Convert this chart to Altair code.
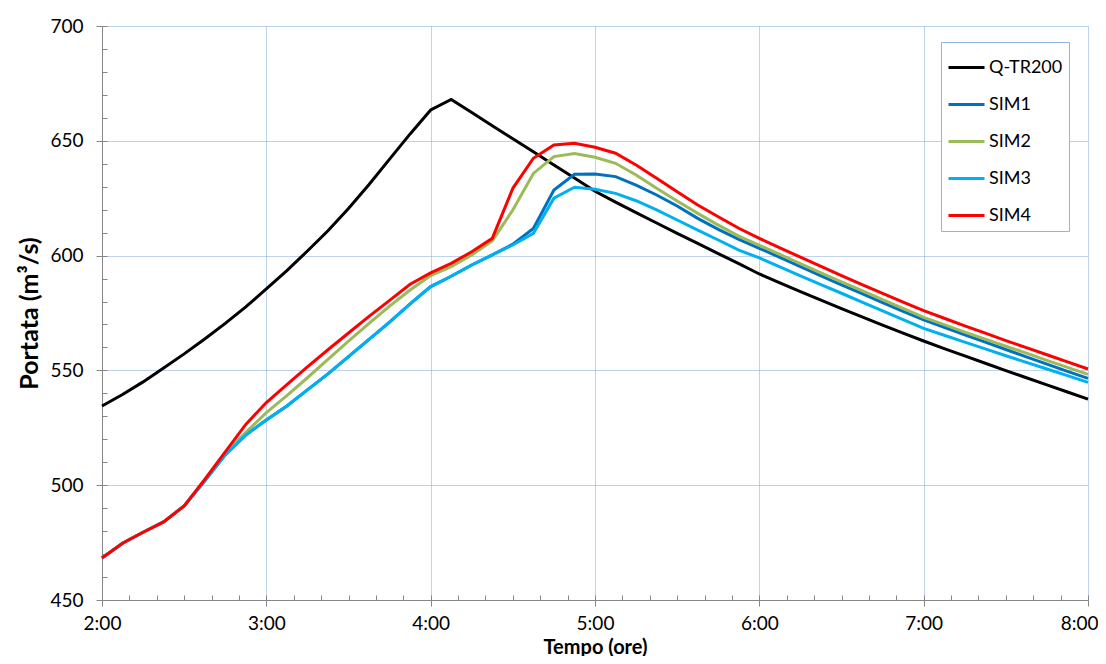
import altair as alt
import pandas as pd

# ---- data ----
time_labels = [
    "2:00", "2:07:30", "2:15", "2:22:30", "2:30", "2:37:30", "2:45", "2:52:30",
    "3:00", "3:07:30", "3:15", "3:22:30", "3:30", "3:37:30", "3:45", "3:52:30",
    "4:00", "4:07:30", "4:15", "4:22:30", "4:30", "4:37:30", "4:45", "4:52:30",
    "5:00", "5:07:30", "5:15", "5:22:30", "5:30", "5:37:30", "5:45", "5:52:30",
    "6:00", "6:07:30", "6:15", "6:22:30", "6:30", "6:37:30", "6:45", "6:52:30",
    "7:00", "7:07:30", "7:15", "7:22:30", "7:30", "7:37:30", "7:45", "7:52:30",
    "8:00",
]

q_tr200 = [534.5, 539.5, 545.0, 551.0, 557.2, 563.7, 570.5, 577.7,
           585.5, 593.5, 602.0, 610.8, 620.5, 631.0, 642.0, 653.0,
           663.4, 668.0, 662.3, 656.6, 650.9, 645.2, 639.5, 633.8,
           628.0, 623.3, 618.7, 614.2, 609.7, 605.3, 600.9, 596.5,
           592.0, 588.1, 584.3, 580.6, 576.9, 573.3, 569.7, 566.2,
           562.8, 559.5, 556.3, 553.1, 549.9, 546.8, 543.7, 540.6,
           537.5]

sim1 = [468.3, 474.7, 479.5, 484.0, 491.0, 501.8, 513.2, 521.9,
        528.4, 534.5, 541.5, 548.5, 556.0, 563.5, 571.0, 579.0,
        586.5, 591.0, 595.9, 600.3, 605.0, 611.8, 628.6, 635.4,
        635.5, 634.4, 630.7, 626.4, 621.6, 616.2, 611.4, 607.1,
        603.2, 599.2, 595.2, 591.2, 587.3, 583.4, 579.5, 575.7,
        572.0, 568.8, 565.5, 562.3, 559.1, 555.9, 552.7, 549.6,
        546.5]

sim2 = [468.3, 474.7, 479.5, 484.0, 491.0, 502.2, 513.8, 523.0,
        531.6, 539.0, 546.8, 554.8, 562.8, 570.5, 578.0, 585.0,
        591.3, 595.2, 600.3, 606.4, 619.9, 635.8, 643.1, 644.5,
        642.8, 640.2, 635.1, 629.3, 623.8, 618.4, 613.3, 608.5,
        604.5, 600.5, 596.5, 592.5, 588.6, 584.7, 580.8, 577.0,
        573.1, 569.9, 566.7, 563.6, 560.5, 557.5, 554.4, 551.3,
        548.3]

sim3 = [468.3, 474.7, 479.5, 484.0, 491.0, 501.8, 513.2, 521.9,
        528.4, 534.5, 541.5, 548.5, 556.0, 563.5, 571.0, 579.0,
        586.5, 591.0, 595.9, 600.3, 604.6, 609.7, 625.0, 629.8,
        628.9, 627.1, 623.9, 619.9, 615.5, 611.1, 606.8, 602.4,
        599.0, 595.1, 591.2, 587.4, 583.6, 579.7, 575.9, 572.1,
        568.3, 565.3, 562.3, 559.4, 556.4, 553.5, 550.6, 547.7,
        544.8]

sim4 = [468.3, 474.7, 479.5, 484.0, 491.0, 502.5, 514.5, 526.5,
        536.0, 543.8, 551.5, 559.0, 566.3, 573.5, 580.5, 587.5,
        592.5, 596.6, 601.7, 607.5, 629.3, 642.4, 648.2, 648.9,
        647.2, 644.6, 639.5, 633.7, 627.8, 622.0, 616.9, 611.9,
        607.5, 603.4, 599.3, 595.3, 591.3, 587.4, 583.5, 579.7,
        576.0, 572.7, 569.4, 566.2, 563.0, 559.9, 556.8, 553.7,
        550.6]

series_names = ["Q-TR200", "SIM1", "SIM2", "SIM3", "SIM4"]
series_colors = ["#000000", "#0070C0", "#9BBB59", "#00B0F0", "#FF0000"]
series_values = [q_tr200, sim1, sim2, sim3, sim4]

x_major = [2, 3, 4, 5, 6, 7, 8]
y_major = [450, 500, 550, 600, 650, 700]
x_minor = [2 + i / 6 for i in range(37)]        # every 10 minutes
y_minor = list(range(450, 701, 10))             # every 10 m3/s


def to_hours(s):
    parts = [int(p) for p in s.split(":")]
    while len(parts) < 3:
        parts.append(0)
    return parts[0] + parts[1] / 60 + parts[2] / 3600


rows = []
for name, vals in zip(series_names, series_values):
    for t, v in zip(time_labels, vals):
        rows.append({"ora": to_hours(t), "portata": v, "serie": name})
df = pd.DataFrame(rows)

FONT = "Lato"
x_scale = alt.Scale(domain=[2, 8], nice=False, zero=False)
y_scale = alt.Scale(domain=[450, 700], nice=False, zero=False)
color_scale = alt.Scale(domain=series_names, range=series_colors)

x_axis = alt.Axis(values=x_major, labelExpr="floor(datum.value) + ':00'",
                  title="Tempo (ore)", tickSize=6, labelPadding=8,
                  grid=True, labelFlush=False,
                  labelAlign={"condition": {"test": "datum.value >= 8", "value": "right"},
                              "value": "center"},
                  labelOffset={"condition": {"test": "datum.value >= 8", "value": 10},
                               "value": 0},
                  titleFontSize=20, titleY=53, titleBaseline="alphabetic")
y_axis = alt.Axis(values=y_major, title="Portata (m³/s)", tickSize=6,
                  labelPadding=13, titlePadding=7, grid=True, labelFlush=False,
                  titleFontSize=25)

legend = alt.Legend(title=None, orient="none", legendX=839, legendY=16,
                    symbolType="stroke", symbolSize=1296, symbolStrokeWidth=3,
                    labelFontSize=18, labelFont=FONT, labelColor="#000000",
                    rowPadding=8, padding=6, labelOffset=3,
                    strokeColor="#8EB4E3", fillColor="#FFFFFF", labelLimit=300)

base = alt.Chart(df)

line_layers = []
for name in series_names:
    line_layers.append(
        base.transform_filter(alt.datum.serie == name)
        .mark_line(strokeWidth=3, interpolate="linear")
        .encode(
            x=alt.X("ora:Q", scale=x_scale, axis=x_axis),
            y=alt.Y("portata:Q", scale=y_scale, axis=y_axis),
            color=alt.Color("serie:N", scale=color_scale, legend=legend),
        )
    )
main = alt.layer(*line_layers)

minor = base.mark_point(opacity=0).encode(
    x=alt.X("ora:Q", scale=x_scale,
            axis=alt.Axis(values=x_minor, orient="bottom", offset=-5, tickSize=5,
                          labels=False, domain=False, grid=False, title="")),
    y=alt.Y("portata:Q", scale=y_scale,
            axis=alt.Axis(values=y_minor, orient="left", offset=-5, tickSize=5,
                          labels=False, domain=False, grid=False, title="")),
)

chart = (
    alt.layer(main, minor)
    .resolve_axis(x="independent", y="independent")
    .properties(width=986, height=574,
                autosize=alt.AutoSizeParams(type="none"),
                padding={"left": 94, "top": 18, "right": 10, "bottom": 56})
    .configure_view(stroke="transparent")
    .configure_axis(labelFont=FONT, titleFont=FONT, labelFontSize=19,
                    titleFontWeight="bold",
                    labelColor="#000000", titleColor="#000000",
                    domainColor="#868686", tickColor="#868686",
                    gridColor="#7EA6DA", gridDash=[1, 1], gridWidth=1)
)

chart.save("out.html", embed_options={"renderer": "svg", "actions": False})
